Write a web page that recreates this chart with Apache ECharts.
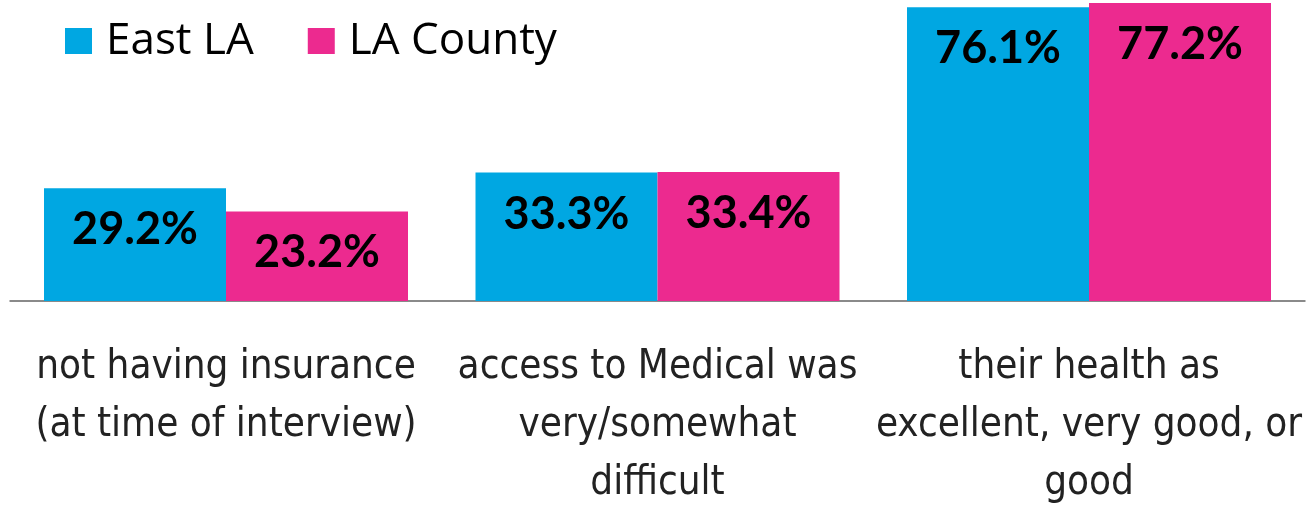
<!DOCTYPE html>
<html>
<head>
<meta charset="utf-8">
<script src="https://cdn.jsdelivr.net/npm/echarts@6/dist/echarts.min.js"></script>
<style>
  html, body { margin: 0; padding: 0; background: #fff; }
  #chart { width: 1308px; height: 508px; }
</style>
</head>
<body>
<div id="chart"></div>
<script>
const categories = [
  'not having insurance\n(at time of interview)',
  'access to Medical was\nvery/somewhat\ndifficult',
  'their health as\nexcellent, very good, or\ngood',
]
const seriesNames = ['East LA', 'LA County']
const eastLA = [29.2, 33.3, 76.1]
const laCounty = [23.2, 33.4, 77.2]

const blue = '#00A7E2'
const pink = '#EC2A8F'

const chart = echarts.init(document.getElementById('chart'))

const barLabel = {
  show: true,
  position: 'insideTop',
  distance: 19,
  formatter: p => p.value.toFixed(1) + '%',
  color: '#000',
  fontFamily: 'Lato, sans-serif',
  fontWeight: 'bold',
  fontSize: 45,
}

chart.setOption({
  animation: false,
  legend: {
    left: 65,
    top: 19,
    padding: 0,
    itemWidth: 27,
    itemHeight: 26,
    itemGap: 54,
    icon: 'rect',
    data: seriesNames,
    textStyle: {
      color: '#000',
      fontFamily: '"Open Sans", sans-serif',
      fontSize: 44,
      padding: [0, 0, 0, 9],
    },
  },
  grid: {
    left: 10.25,
    right: 3.25,
    top: 0,
    bottom: 207,
    containLabel: false,
    outerBoundsMode: 'none',
  },
  xAxis: {
    type: 'category',
    data: categories,
    axisLine: { lineStyle: { color: '#8a8a8a', width: 2 } },
    axisTick: { show: false },
    axisLabel: {
      interval: 0,
      margin: 38,
      color: '#222',
      fontFamily: '"DejaVu Sans Condensed", sans-serif',
      fontSize: 40,
      lineHeight: 58,
      hideOverlap: false,
    },
  },
  yAxis: {
    type: 'value',
    min: 0,
    max: 78,
    show: false,
    splitLine: { show: false },
  },
  series: [
    {
      name: seriesNames[0],
      type: 'bar',
      data: eastLA,
      barWidth: 182,
      barGap: '0%',
      itemStyle: { color: blue },
      label: barLabel,
    },
    {
      name: seriesNames[1],
      type: 'bar',
      data: laCounty,
      barWidth: 182,
      barGap: '0%',
      itemStyle: { color: pink },
      label: barLabel,
    },
  ],
})
</script>
</body>
</html>
